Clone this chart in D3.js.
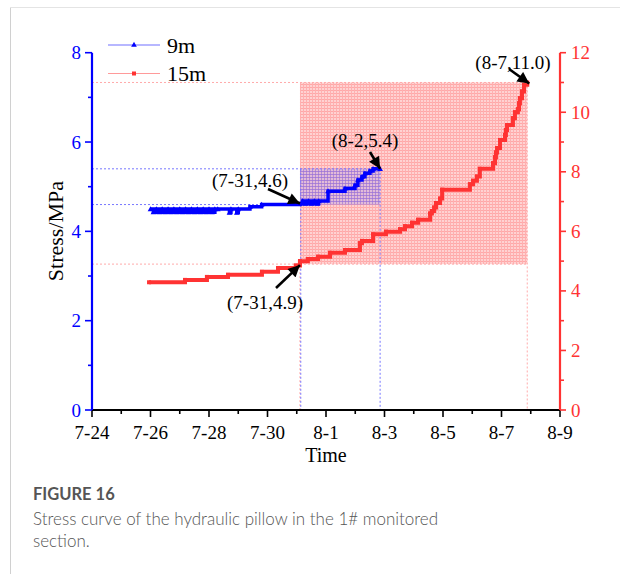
<!DOCTYPE html>
<html><head><meta charset="utf-8">
<script src="https://cdn.jsdelivr.net/npm/d3@7"></script>
<style>body{margin:0;background:#fff}svg{display:block}</style>
</head><body>
<svg id="c" width="620" height="574"></svg>
<script>
// ---- data (time in days since 7-24 00:00) ----
const xTickLabels = ["7-24","7-26","7-28","7-30","8-1","8-3","8-5","8-7","8-9"];
const leftTicks = [0,2,4,6,8];
const rightTicks = [0,2,4,6,8,10,12];
// 9m series (left axis, MPa)
const t9 = [2.0,2.1,2.2,2.3,2.4,2.5,2.6,2.7,2.8,2.9,3.0,3.1,3.2,3.3,3.4,3.5,3.6,3.7,3.8,3.9,4.0,4.1,4.2,4.3,
            4.7,4.75,4.95,5.0,5.4,5.8,7.11,7.2,7.3,7.4,7.5,7.6,7.7,7.75,8.07,8.65,8.99,9.09,9.23,9.33,9.5,9.61,9.85];
const v9 = [4.5,4.43,4.5,4.43,4.5,4.43,4.5,4.43,4.5,4.43,4.5,4.43,4.5,4.43,4.5,4.43,4.5,4.43,4.5,4.43,4.5,4.43,4.5,4.5,
            4.42,4.5,4.42,4.5,4.55,4.6,4.62,4.68,4.62,4.68,4.62,4.68,4.62,4.68,4.9,4.96,5.03,5.15,5.22,5.3,5.35,5.4,5.4];
// 15m series (right axis, MPa)
const t15 = [1.95,3.18,3.93,4.65,5.81,6.36,6.97,7.11,7.38,7.73,8.14,8.65,9.16,9.23,9.61,10.05,10.53,10.7,10.94,11.15,
             11.56,11.62,11.7,11.76,11.9,11.97,12.92,13.03,13.16,13.26,13.71,13.78,13.81,13.85,13.95,14.12,14.15,14.19,
             14.39,14.46,14.56,14.6,14.63,14.7,14.77,14.88];
const v15 = [4.29,4.37,4.47,4.54,4.64,4.77,4.85,5.0,5.07,5.15,5.28,5.37,5.6,5.68,5.9,5.99,6.07,6.17,6.29,6.39,
             6.6,6.68,6.8,6.95,7.1,7.4,7.58,7.7,7.84,8.1,8.29,8.49,8.65,8.8,9.07,9.24,9.4,9.57,
             9.8,10.0,10.1,10.3,10.47,10.7,10.92,11.0];
// annotated points
const markA = {t:7.11, v:4.6, label:"(7-31,4.6)"};
const markB = {t:9.85, v:5.4, label:"(8-2,5.4)"};
const markC = {t:7.11, v:4.9, label:"(7-31,4.9)"};
const markD = {t:14.88, v:11.0, label:"(8-7,11.0)"};

// ---- drawing ----
const svg = d3.select("#c");
const BLUE="#0000ff", RED="#ff3333";
const serif="'Liberation Serif','Times New Roman',serif";
const x = d3.scaleLinear().domain([0,16]).range([92,560]);
const yL = d3.scaleLinear().domain([0,8]).range([410,52.7]);
const yR = d3.scaleLinear().domain([0,12]).range([410,52.7]);

// frame
svg.append("line").attr("x1",10.5).attr("x2",10.5).attr("y1",7).attr("y2",574).attr("stroke","#d0d0d0");
svg.append("line").attr("x1",10).attr("x2",620).attr("y1",7.5).attr("y2",7.5).attr("stroke","#e4e4e4");

const defs = svg.append("defs");
const pr = defs.append("pattern").attr("id","pr").attr("width",3).attr("height",3).attr("patternUnits","userSpaceOnUse");
pr.append("rect").attr("width",3).attr("height",3).attr("fill","#ffd2d2");
pr.append("rect").attr("width",3).attr("height",1).attr("fill","#ffa8a8");
pr.append("rect").attr("width",1).attr("height",3).attr("fill","#ffb0b0");
const pb = defs.append("pattern").attr("id","pb").attr("width",3).attr("height",3).attr("patternUnits","userSpaceOnUse");
pb.append("rect").attr("width",3).attr("height",3).attr("fill","rgba(90,90,255,0.18)");
pb.append("rect").attr("width",3).attr("height",1).attr("fill","rgba(90,90,255,0.35)");
pb.append("rect").attr("width",1).attr("height",3).attr("fill","rgba(90,90,255,0.3)");

// red shaded region
svg.append("rect").attr("x",x(markC.t)).attr("y",yR(markD.v))
  .attr("width",x(markD.t)-x(markC.t)).attr("height",yR(markC.v)-yR(markD.v)).attr("fill","url(#pr)");
// blue shaded region
svg.append("rect").attr("x",x(markA.t)).attr("y",yL(markB.v))
  .attr("width",x(markB.t)-x(markA.t)).attr("height",yL(markA.v)-yL(markB.v)).attr("fill","url(#pb)");

// guide lines
function guide(x1,y1,x2,y2,col,dash){
  svg.append("line").attr("x1",x1).attr("y1",y1).attr("x2",x2).attr("y2",y2)
    .attr("stroke",col).attr("stroke-width",1).attr("stroke-dasharray",dash);
}
const pinkG="#ffaaaa", blueG="#7777ff";
guide(x(0),yR(markD.v),x(markD.t),yR(markD.v),pinkG,"2,2");
guide(x(0),yR(markC.v),x(markD.t),yR(markC.v),pinkG,"2,2");
guide(x(markD.t),yR(markD.v),x(markD.t),410,pinkG,"2,2");
guide(x(markC.t),yR(markC.v),x(markC.t),410,pinkG,"2,2");
guide(x(0),yL(markB.v),x(markB.t),yL(markB.v),blueG,"2,2");
guide(x(0),yL(markA.v),x(markA.t),yL(markA.v),blueG,"2,2");
guide(x(markB.t),yL(markB.v),x(markB.t),410,blueG,"2,2");
guide(x(markA.t)+0.8,yL(markB.v),x(markA.t)+0.8,410,blueG,"2,2");

// series
const d9 = t9.map((t,i)=>({t, v:v9[i]}));
const d15 = t15.map((t,i)=>({t, v:v15[i]}));
const line9 = d3.line().x(d=>x(d.t)).y(d=>yL(d.v)).curve(d3.curveStepAfter);
const line15 = d3.line().x(d=>x(d.t)).y(d=>yR(d.v)).curve(d3.curveStepAfter);
svg.append("path").attr("d",line15(d15)).attr("fill","none").attr("stroke",RED).attr("stroke-width",4);
svg.selectAll(".m15").data(d15).enter().append("rect").attr("class","m15")
  .attr("x",d=>x(d.t)-2).attr("y",d=>yR(d.v)-2).attr("width",4).attr("height",4).attr("fill",RED);
svg.append("path").attr("d",line9(d9)).attr("fill","none").attr("stroke",BLUE).attr("stroke-width",3.5);
const tri = d3.symbol().type(d3.symbolTriangle).size(14);
svg.selectAll(".m9").data(d9).enter().append("path").attr("class","m9")
  .attr("d",tri).attr("transform",d=>`translate(${x(d.t)},${yL(d.v)+0.5})`).attr("fill",BLUE);

// axes
const gx = svg.append("g").attr("transform","translate(0,410)");
gx.append("line").attr("x1",x(0)).attr("x2",x(16)).attr("stroke","#000").attr("stroke-width",2);
d3.range(0,17).forEach(d=>{
  gx.append("line").attr("x1",x(d)).attr("x2",x(d)).attr("y1",0).attr("y2",d%2===0?7:4)
    .attr("stroke","#000").attr("stroke-width",1.6);
});
gx.selectAll(".xl").data(xTickLabels).enter().append("text")
  .attr("x",(d,i)=>x(i*2)).attr("y",28.5).attr("text-anchor","middle")
  .attr("font-family",serif).attr("font-size",19).attr("fill","#000").text(d=>d);
svg.append("text").attr("x",x(8)).attr("y",462).attr("text-anchor","middle")
  .attr("font-family",serif).attr("font-size",20).text("Time");

// left axis
const gl = svg.append("g");
gl.append("line").attr("x1",x(0)).attr("x2",x(0)).attr("y1",yL(8)).attr("y2",410).attr("stroke",BLUE).attr("stroke-width",2.2);
d3.range(0,9).forEach(v=>{
  gl.append("line").attr("x1",x(0)).attr("x2",x(0)-(v%2===0?7:4)).attr("y1",yL(v)).attr("y2",yL(v))
    .attr("stroke",BLUE).attr("stroke-width",1.6);
});
gl.selectAll(".yl").data(leftTicks).enter().append("text")
  .attr("x",x(0)-11).attr("y",d=>yL(d)+6.5).attr("text-anchor","end")
  .attr("font-family",serif).attr("font-size",19).attr("fill",BLUE).text(d=>d);
svg.append("text").attr("transform",`translate(63,231) rotate(-90)`).attr("text-anchor","middle")
  .attr("font-family",serif).attr("font-size",22).text("Stress/MPa");

// right axis
const gr = svg.append("g");
gr.append("line").attr("x1",x(16)).attr("x2",x(16)).attr("y1",yR(12)).attr("y2",410).attr("stroke",RED).attr("stroke-width",2.2);
d3.range(0,13).forEach(v=>{
  gr.append("line").attr("x1",x(16)).attr("x2",x(16)+(v%2===0?6:4)).attr("y1",yR(v)).attr("y2",yR(v))
    .attr("stroke",RED).attr("stroke-width",1.6);
});
gr.selectAll(".yr").data(rightTicks).enter().append("text")
  .attr("x",x(16)+11).attr("y",d=>yR(d)+6.5).attr("text-anchor","start")
  .attr("font-family",serif).attr("font-size",19).attr("fill",RED).text(d=>d);

// legend
svg.append("line").attr("x1",108).attr("x2",160).attr("y1",45).attr("y2",45).attr("stroke","#7070ff").attr("stroke-width",1.2);
svg.append("path").attr("d",tri).attr("transform","translate(134,45)").attr("fill",BLUE);
svg.append("text").attr("x",167).attr("y",53).attr("font-family",serif).attr("font-size",22).text("9m");
svg.append("line").attr("x1",108).attr("x2",160).attr("y1",73.5).attr("y2",73.5).attr("stroke","#ff9a9a").attr("stroke-width",1.2);
svg.append("rect").attr("x",132).attr("y",71.5).attr("width",4).attr("height",4).attr("fill",RED);
svg.append("text").attr("x",167).attr("y",81).attr("font-family",serif).attr("font-size",22).text("15m");

// annotations
defs.append("marker").attr("id","ah").attr("viewBox","0 0 10 10").attr("refX",10).attr("refY",5)
  .attr("markerWidth",5).attr("markerHeight",4.5).attr("orient","auto")
  .append("path").attr("d","M0,0 L10,5 L0,10 z").attr("fill","#000");
function annot(txt,tx,ty,x1,y1,x2,y2){
  svg.append("text").attr("x",tx).attr("y",ty).attr("text-anchor","middle")
    .attr("font-family",serif).attr("font-size",19).text(txt);
  svg.append("line").attr("x1",x1).attr("y1",y1).attr("x2",x2).attr("y2",y2)
    .attr("stroke","#000").attr("stroke-width",2.6).attr("marker-end","url(#ah)");
}
annot(markA.label,250,187,268,189,x(markA.t),yL(markA.v)-1);
annot(markB.label,365,147,370,152,x(markB.t),yL(markB.v));
annot(markC.label,265,309,276,288,x(markC.t),yR(markC.v)+1);
annot(markD.label,513,69,509,69,x(markD.t)+2,yR(markD.v)+1);

// caption
svg.append("text").attr("x",33).attr("y",500).attr("font-family","Lato,'Noto Sans',sans-serif")
  .attr("font-weight",700).attr("font-size",16.5).attr("fill","#555").text("FIGURE 16");
svg.append("text").attr("x",33).attr("y",525).attr("font-family","Lato,'Noto Sans',sans-serif")
  .attr("font-weight",300).attr("font-size",17).attr("fill","#555").text("Stress curve of the hydraulic pillow in the 1# monitored");
svg.append("text").attr("x",33).attr("y",547).attr("font-family","Lato,'Noto Sans',sans-serif")
  .attr("font-weight",300).attr("font-size",17).attr("fill","#555").text("section.");
</script>
</body></html>
